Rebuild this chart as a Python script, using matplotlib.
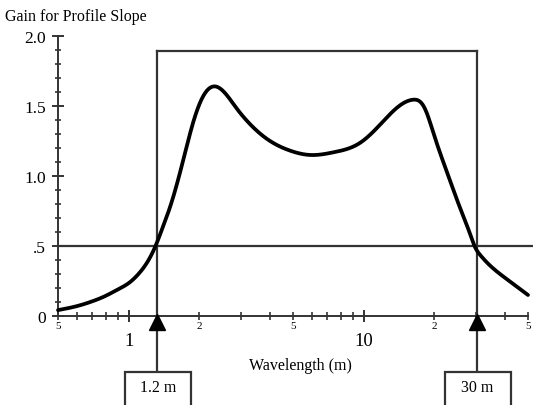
import matplotlib.pyplot as plt
import numpy as np
from matplotlib.ticker import FixedLocator, FixedFormatter, NullFormatter
from matplotlib.patches import Rectangle

plt.rcParams['font.family'] = ['Liberation Serif', 'DejaVu Serif']

# curve
wavelength = [0.5, 0.6, 0.7, 0.8, 0.9, 1.0, 1.1, 1.2, 1.3, 1.4, 1.5, 1.71, 1.88, 2.08,
              2.33, 2.89, 3.18, 3.88, 4.88, 5.94, 7.47, 9.71, 11.8, 13.9, 16.2, 18.1,
              19.96, 22.8, 26.0, 28.0, 29.6, 31.5, 34.0, 38.0, 42.0, 46.0, 50.0]
gain = [0.042, 0.07, 0.105, 0.145, 0.19, 0.235, 0.30, 0.385, 0.5, 0.64, 0.78, 1.121,
        1.383, 1.574, 1.64, 1.479, 1.395, 1.264, 1.18, 1.15, 1.17, 1.24, 1.371, 1.49,
        1.545, 1.49, 1.288, 1.01, 0.75, 0.61, 0.5, 0.43, 0.37, 0.30, 0.245, 0.195, 0.15]

band_low = 1.32
band_high = 30.2
band_top = 1.89
half_gain = 0.5
band_labels = ['1.2 m', '30 m']

minor_x = [0.5, 2, 5, 20, 50]
minor_x_labels = ['5', '2', '5', '2', '5']
major_x = [1, 10]
major_x_labels = ['1', '10']
y_ticks = [0, 0.5, 1.0, 1.5, 2.0]
y_labels = ['0', '.5', '1.0', '1.5', '2.0']

W, H = 533, 406
fig = plt.figure(figsize=(W/100, H/100), dpi=100)
ax = fig.add_axes([58/W, 89/H, 470/W, 280/H])
ax.set_xscale('log')
ax.set_xlim(0.5, 50)
ax.set_ylim(0, 2.0)


def natural_spline(x, y, xs):
    # plain natural cubic spline, x must be increasing
    x = np.asarray(x, float); y = np.asarray(y, float)
    n = len(x)
    h = np.diff(x)
    A = np.zeros((n, n)); b = np.zeros(n)
    A[0, 0] = A[-1, -1] = 1
    for i in range(1, n-1):
        A[i, i-1] = h[i-1]
        A[i, i] = 2*(h[i-1] + h[i])
        A[i, i+1] = h[i]
        b[i] = 3*((y[i+1]-y[i])/h[i] - (y[i]-y[i-1])/h[i-1])
    c = np.linalg.solve(A, b)
    out = np.empty_like(xs)
    for k, xv in enumerate(xs):
        i = min(max(np.searchsorted(x, xv) - 1, 0), n - 2)
        d = xv - x[i]
        bi = (y[i+1]-y[i])/h[i] - h[i]*(2*c[i] + c[i+1])/3
        di = (c[i+1] - c[i])/(3*h[i])
        out[k] = y[i] + bi*d + c[i]*d**2 + di*d**3
    return out


lx = np.log10(wavelength)
xs = np.linspace(lx[0], lx[-1], 800)
ys = natural_spline(lx, gain, xs)
ax.plot(10**xs, ys, color='black', lw=2.7, zorder=3, clip_on=False,
        solid_capstyle='round')

lc = '#333333'
# band box
ax.plot([band_low, band_low], [band_top, -0.4], color=lc, lw=1.6, clip_on=False)
ax.plot([band_high, band_high], [band_top, -0.4], color=lc, lw=1.6, clip_on=False)
ax.plot([band_low, band_high], [band_top, band_top], color=lc, lw=1.6, clip_on=False)
# half-gain line across the whole width
ax.plot([0.5, 55], [half_gain, half_gain], color=lc, lw=1.6, clip_on=False)

# arrows and label boxes
for xv, lab in zip([band_low, band_high], band_labels):
    ax.plot([xv], [-0.045], marker='^', color='black', markersize=11,
            clip_on=False, zorder=4)
    px = ax.transData.transform((xv, 0))[0]
    fig.patches.append(Rectangle(((px - 32)/W, -5/H), 66/W, (H - 373 + 5)/H,
                                 transform=fig.transFigure, fc='white', ec=lc, lw=1.6))
    fig.text((px + 1)/W, 1 - 388/H, lab, ha='center', va='center', fontsize=11.5)

for s in ['top', 'right']:
    ax.spines[s].set_visible(False)
for s in ['left', 'bottom']:
    ax.spines[s].set_color(lc)
    ax.spines[s].set_linewidth(1.4)

ax.xaxis.set_major_locator(FixedLocator(major_x))
ax.xaxis.set_major_formatter(FixedFormatter(major_x_labels))
minor_all = [0.5, 0.6, 0.7, 0.8, 0.9] + list(range(2, 10)) + [20, 30, 40, 50]
ax.xaxis.set_minor_locator(FixedLocator(minor_all))
ax.xaxis.set_minor_formatter(NullFormatter())
ax.tick_params(axis='x', which='major', direction='inout', length=9, width=1.4,
               color=lc, labelsize=13.5, pad=7)
ax.tick_params(axis='x', which='minor', direction='inout', length=6, width=1.2, color=lc)
for xv, lab in zip(minor_x, minor_x_labels):
    ax.text(xv, -0.065, lab, ha='center', va='center', fontsize=8)

ax.yaxis.set_major_locator(FixedLocator(y_ticks))
ax.yaxis.set_major_formatter(FixedFormatter(y_labels))
ax.yaxis.set_minor_locator(FixedLocator(np.round(np.arange(0, 2.01, 0.1), 2)))
ax.tick_params(axis='y', which='major', direction='inout', length=9, width=1.4,
               color=lc, labelsize=12.5, pad=4)
ax.tick_params(axis='y', which='minor', direction='inout', length=5, width=1.2, color=lc)

ax.set_xlabel('Wavelength (m)', fontsize=11.5)
ax.xaxis.set_label_coords((300 - 58)/470, -(358 - 317)/280)
fig.text(5/W, 1 - 17/H, 'Gain for Profile Slope', fontsize=11.5, va='center', ha='left')

fig.savefig('out.png', dpi=100)
